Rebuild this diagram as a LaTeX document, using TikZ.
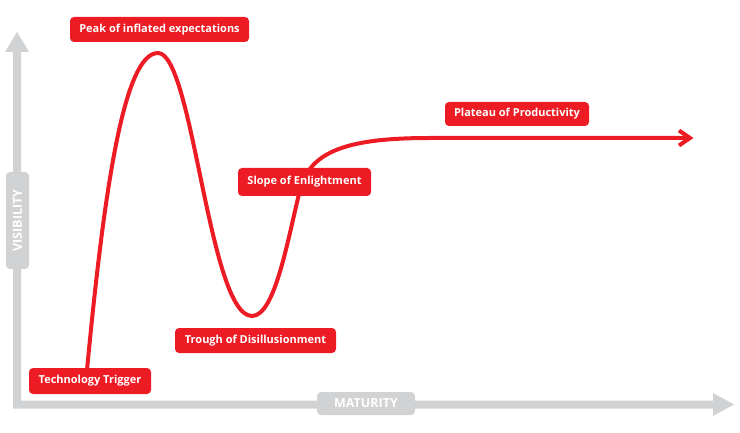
\documentclass[tikz,border=0pt]{standalone}
\usepackage{fontspec}
\setmainfont{Open Sans}[BoldFont={Open Sans Bold}]
\definecolor{hred}{HTML}{ED1C24}
\definecolor{hgray}{HTML}{D1D2D4}
\begin{document}
\begin{tikzpicture}[x=1pt,y=-1pt,
  redlabel/.style={fill=hred,rounded corners=4pt,text=white,font=\fontsize{11}{13}\selectfont\bfseries,inner sep=0pt},
  graylabel/.style={fill=hgray,rounded corners=4pt,text=white,font=\fontsize{12.5}{14}\selectfont\bfseries,inner sep=0pt}]
\useasboundingbox (0,0) rectangle (740,433);
% axes
\fill[hgray] (13,408.5) -- (713,408.5) -- (713,416) -- (734,404.5) -- (713,393) -- (713,400.5)
  -- (21,400.5) -- (21,52) -- (29,52) -- (17,32) -- (5,52) -- (13,52) -- cycle;
\node[graylabel,minimum width=23pt,minimum height=97pt] (vis) at (17.5,220.5) {};
\node[text=white,font=\fontsize{12.5}{14}\selectfont\bfseries,rotate=90] (vist) at (vis.center) {VISIBILITY};
\node[graylabel,minimum width=98pt,minimum height=23pt] (mat) at (366,403.5) {MATURITY};
% curve
\coordinate (start) at (87,370);
\coordinate (peak) at (158,53);
\coordinate (trough) at (252,316);
\coordinate (slope) at (300,190);
\coordinate (plat) at (430,138);
\coordinate (tip) at (690,138);
\draw[hred,line width=4pt] (start) .. controls (105,180) and (125,53) .. (peak)
  .. controls (193,53) and (209,316) .. (trough)
  .. controls (275,316) and (287.5,240) .. (slope)
  .. controls (310,150) and (350,138) .. (plat) -- (tip);
\draw[hred,line width=4pt,miter limit=10] (679,130.5) -- (tip) -- (679,145.5);
% labels
\node[redlabel,minimum width=122pt,minimum height=26pt] (tt) at (90,381) {Technology Trigger};
\node[redlabel,minimum width=179pt,minimum height=25pt] (pk) at (159.5,29.5) {Peak of inflated expectations};
\node[redlabel,minimum width=133pt,minimum height=28pt] (se) at (304.5,182) {Slope of Enlightment};
\node[redlabel,minimum width=161pt,minimum height=25pt] (tr) at (255.5,340.5) {Trough of Disillusionment};
\node[redlabel,minimum width=144pt,minimum height=24pt] (pp) at (517,114) {Plateau of Productivity};
\end{tikzpicture}
\end{document}
